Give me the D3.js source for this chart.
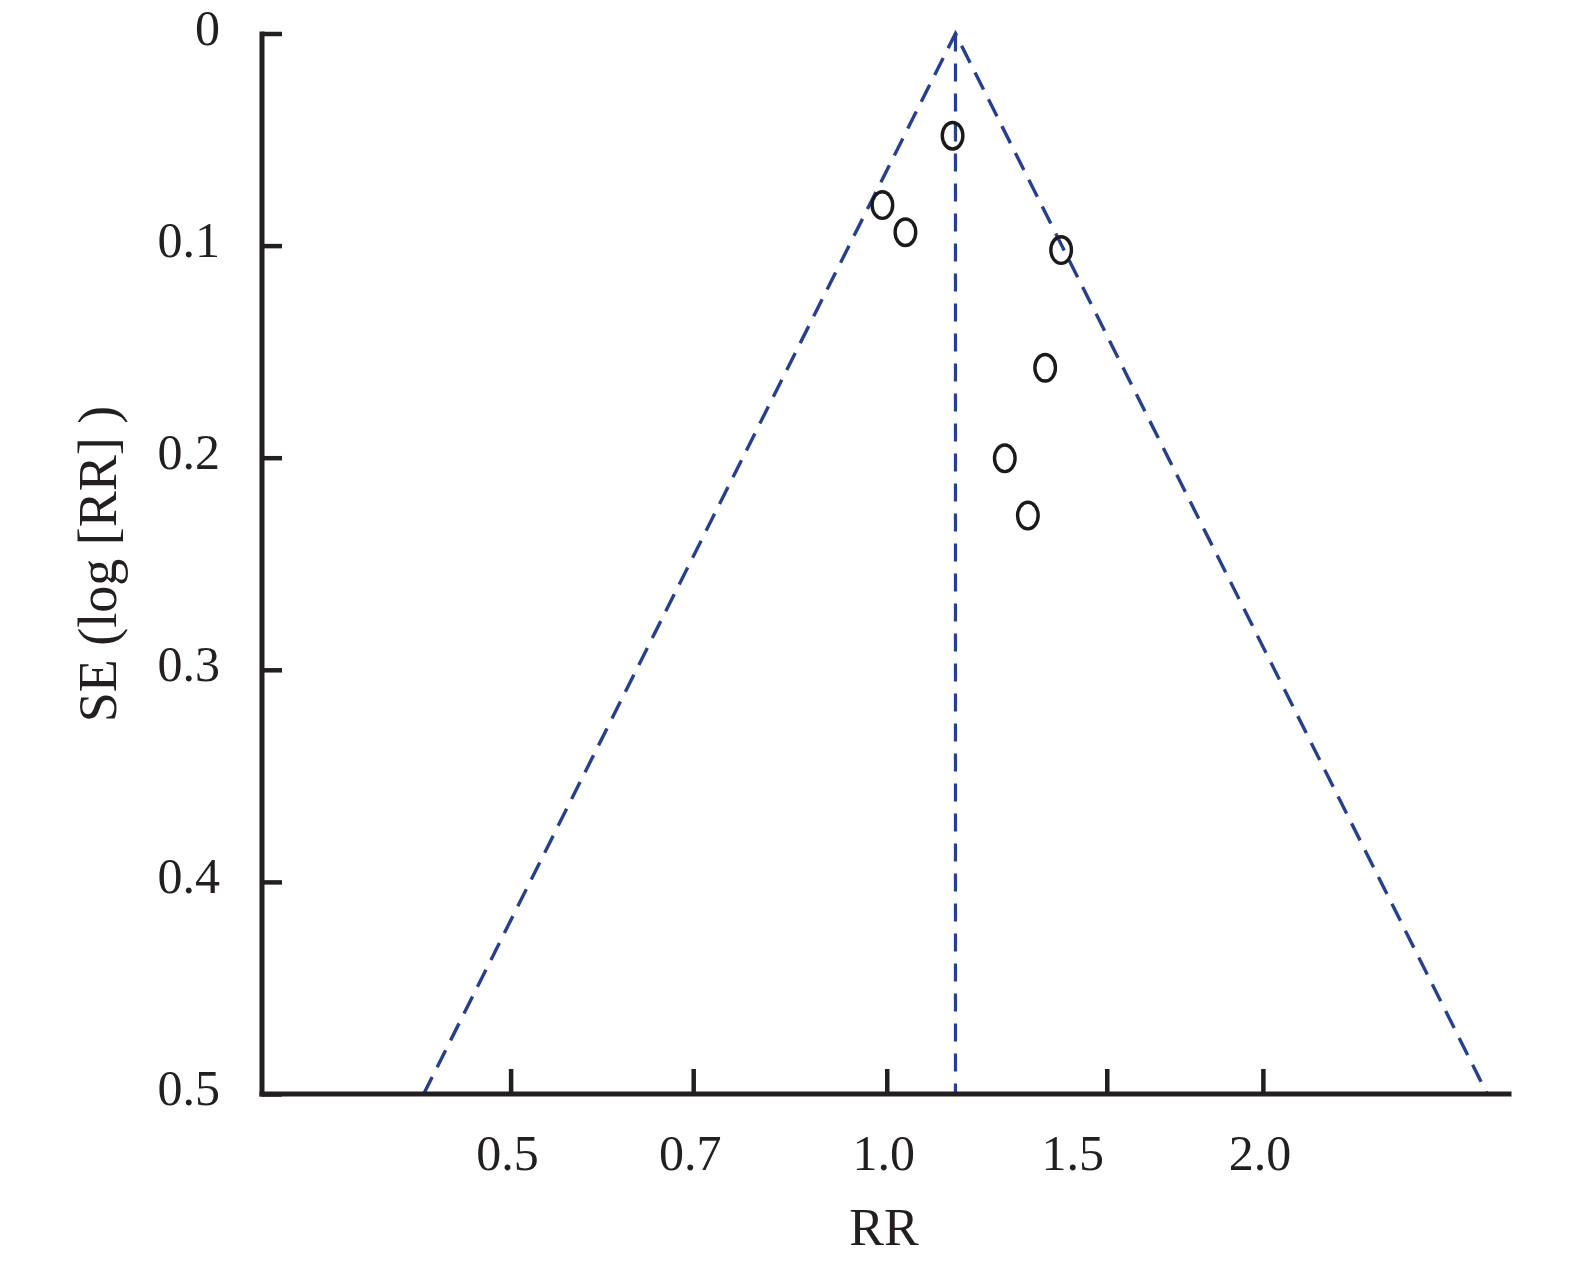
<!DOCTYPE html>
<html>
<head>
<meta charset="utf-8">
<script src="https://cdn.jsdelivr.net/npm/d3@7"></script>
<style>
  html, body { margin: 0; padding: 0; background: #fff; }
  svg { display: block; }
  text { font-family: "Liberation Serif", "Times New Roman", serif; fill: #231f20; }
</style>
</head>
<body>
<svg id="chart" width="1575" height="1267"></svg>
<script>
// ---- data ----
const studyRR = [1.129, 0.992, 1.035, 1.379, 1.339, 1.243, 1.297];
const studySE = [0.0482, 0.0809, 0.0937, 0.1021, 0.1576, 0.2003, 0.2273];
const pooledRR = 1.135;
const xTicks = [0.5, 0.7, 1.0, 1.5, 2.0];
const xTickLabels = ["0.5", "0.7", "1.0", "1.5", "2.0"];
const yTicks = [0, 0.1, 0.2, 0.3, 0.4, 0.5];
const yTickLabels = ["0", "0.1", "0.2", "0.3", "0.4", "0.5"];
const xDomain = [0.31623, 3.16228];
const yDomain = [0, 0.5];
const xTitle = "RR";
const yTitle = "SE (log [RR] )";
const zCrit = 1.96;

(function () {
// ---- layout ----
const svg = d3.select("#chart");
const mLeft = 262, mRight = 1511.5, mTop = 33.5, mBottom = 1094;
const axisColor = "#231f20";
const funnelColor = "#263f8f";

const x = d3.scaleLog().domain(xDomain).range([mLeft, mRight]);
const y = d3.scaleLinear().domain(yDomain).range([mTop, mBottom]);

// funnel lines
const seMax = yDomain[1];
const lp = Math.log(pooledRR);
const funnel = [
  [Math.exp(lp - zCrit * seMax), seMax],
  [pooledRR, 0],
  [Math.exp(lp + zCrit * seMax), seMax]
];
const line = d3.line().x(d => x(d[0])).y(d => y(d[1]));
svg.append("path")
  .attr("d", line(funnel))
  .attr("fill", "none")
  .attr("stroke", funnelColor)
  .attr("stroke-width", 3.4)
  .attr("stroke-dasharray", "19,11");
svg.append("path")
  .attr("d", line([[pooledRR, 0], [pooledRR, seMax]]))
  .attr("fill", "none")
  .attr("stroke", funnelColor)
  .attr("stroke-width", 3.2)
  .attr("stroke-dasharray", "18,12");

// axes
const yAxis = d3.axisRight(y).tickValues(yTicks).tickSize(20).tickFormat("");
const gy = svg.append("g").attr("transform", `translate(${mLeft},0)`).call(yAxis);
const xAxis = d3.axisTop(x).tickValues(xTicks).tickSize(25).tickFormat("");
const gx = svg.append("g").attr("transform", `translate(0,${mBottom})`).call(xAxis);
[gx, gy].forEach(g => {
  g.select(".domain").attr("stroke", axisColor).attr("stroke-width", 5);
  g.selectAll(".tick line").attr("stroke", axisColor).attr("stroke-width", 4.5);
});
gy.select(".domain").attr("d", `M0,${mTop - 2}V${mBottom + 2.5}`);
gx.select(".domain").attr("d", `M${mLeft - 2.5},0H${mRight}`);

// tick labels
svg.append("g").selectAll("text")
  .data(yTicks)
  .join("text")
  .attr("x", 220)
  .attr("y", d => y(d) + 11)
  .attr("text-anchor", "end")
  .attr("font-size", 50)
  .text((d, i) => yTickLabels[i]);

// the "1.5" label sits left of its tick in the original figure
const labelShift = d => (d === 1.5 ? -34 : -3);
svg.append("g").selectAll("text")
  .data(xTicks)
  .join("text")
  .attr("x", d => x(d) + labelShift(d))
  .attr("y", 1170)
  .attr("text-anchor", "middle")
  .attr("font-size", 50)
  .text((d, i) => xTickLabels[i]);

// axis titles
svg.append("text")
  .attr("x", 884).attr("y", 1245)
  .attr("text-anchor", "middle")
  .attr("font-size", 52)
  .text(xTitle);
svg.append("text")
  .attr("transform", "translate(116,564) rotate(-90)")
  .attr("text-anchor", "middle")
  .attr("font-size", 54)
  .text(yTitle);

// study points
svg.append("g").selectAll("ellipse")
  .data(studyRR.map((r, i) => [r, studySE[i]]))
  .join("ellipse")
  .attr("cx", d => x(d[0]))
  .attr("cy", d => y(d[1]))
  .attr("rx", 10.3)
  .attr("ry", 13.3)
  .attr("fill", "none")
  .attr("stroke", "#1a1a1a")
  .attr("stroke-width", 3.4);
})();
</script>
</body>
</html>
